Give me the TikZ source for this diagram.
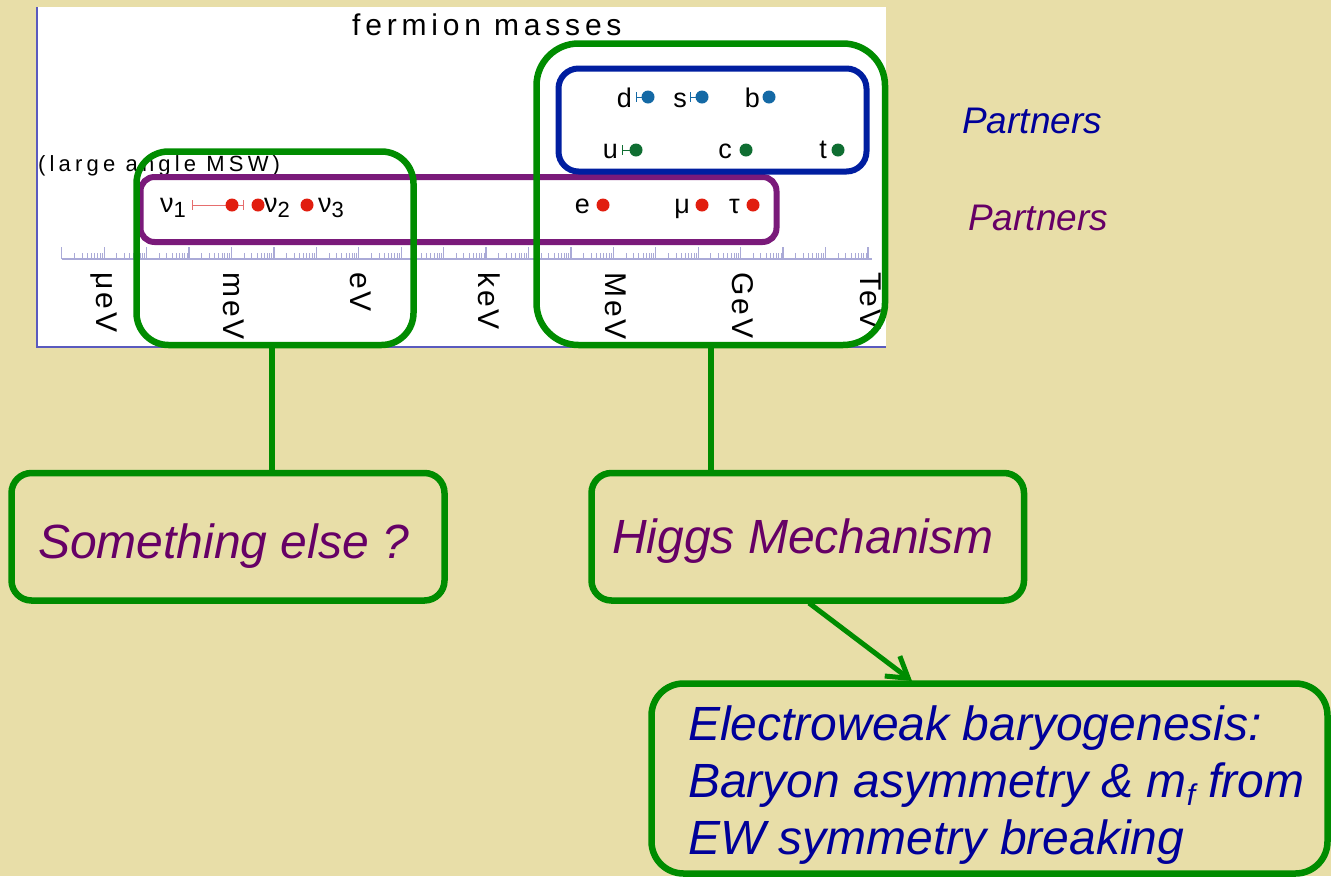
\documentclass[tikz,border=0pt]{standalone}
\usepackage{fontspec}
\setmainfont{Liberation Sans}
\newfontfamily\titlefont[LetterSpace=16]{Liberation Sans}
\newfontfamily\mswfont[LetterSpace=19]{Liberation Sans}
\newfontfamily\axisfont[LetterSpace=10]{Liberation Sans}
\usetikzlibrary{arrows.meta,calc}
\definecolor{bg}{RGB}{232,222,168}
\definecolor{gbox}{RGB}{0,140,0}
\definecolor{bbox}{RGB}{0,30,160}
\definecolor{pbox}{RGB}{122,26,122}
\definecolor{txtp}{RGB}{102,0,102}
\definecolor{txtb}{RGB}{0,0,153}
\definecolor{dotr}{RGB}{225,30,15}
\definecolor{dotb}{RGB}{20,105,165}
\definecolor{dotg}{RGB}{15,110,50}
\definecolor{tickc}{RGB}{170,170,215}
\definecolor{framec}{RGB}{90,90,190}
\definecolor{errr}{RGB}{230,110,110}
\tikzset{
  gframe/.style={draw=gbox, line width=6.5, inner sep=0, anchor=center},
  lab/.style={inner sep=0, font=\fontsize{27}{30}\selectfont, text=black},
  axlab/.style={inner sep=0, rotate=-90, anchor=base west, font=\axisfont\fontsize{30}{32}\selectfont},
  rdot/.style={circle, fill=dotr, inner sep=0, minimum size=13},
  bdot/.style={circle, fill=dotb, inner sep=0, minimum size=13},
  gdot/.style={circle, fill=dotg, inner sep=0, minimum size=13},
  bigtxt/.style={inner sep=0, anchor=base west, font=\itshape\fontsize{48}{57}\selectfont},
  conn/.style={draw=gbox, line width=6},
}
\begin{document}
\begin{tikzpicture}[x=1pt,y=-1pt]
\fill[bg] (0,0) rectangle (1331,876);
\useasboundingbox (0,0) rectangle (1331,876);
% chart area
\fill[white] (37,7) rectangle (886,347);
\draw[framec, line width=1.2] (37,7) -- (37,347) -- (886,347);
\node[inner sep=0, anchor=base west, font=\titlefont\fontsize{30}{32}\selectfont] (title) at (352,35) {fermion masses};
\node[inner sep=0, anchor=base west, font=\mswfont\fontsize{22}{24}\selectfont] (msw) at (38,171) {(large angle MSW)};
% log axis
\begin{scope}
\clip (61,240) rectangle (872,262);
\draw[tickc, line width=1.2] (62,259) -- (872,259);
\foreach \d in {-2,...,19}{
  \pgfmathsetmacro\xd{104.2+42.43*\d}
  \draw[tickc, line width=1.2] (\xd,259) -- (\xd,247);
  \foreach \n in {2,...,9}{
    \pgfmathsetmacro\xm{\xd+42.43*log10(\n)}
    \draw[tickc, line width=1] (\xm,259) -- (\xm,253);
  }
}
\end{scope}
\foreach \lab [count=\i from 0] in {μeV,meV,eV,keV,MeV,GeV,TeV}{
  \node[axlab] (ax\i) at ({104.2+127.3*\i-8},272) {\lab};
}
% quarks
\draw[dotb, line width=1] (636,92) -- (636,102) (636,97) -- (648,97);
\draw[dotb, line width=1] (690,92) -- (690,102) (690,97) -- (702,97);
\node[lab, anchor=base east] (qd) at (632,107) {d};
\node[bdot] (dd) at (648,97) {};
\node[lab, anchor=base east] (qs) at (687,107) {s};
\node[bdot] (ds) at (702,97) {};
\node[lab, anchor=base east] (qb) at (760,107) {b};
\node[bdot] (db) at (769,97) {};
\draw[dotg, line width=1] (622,145) -- (622,155) (622,150) -- (636,150);
\node[lab, anchor=base east] (qu) at (618,158) {u};
\node[gdot] (du) at (636,150) {};
\node[lab, anchor=base east] (qc) at (732,158) {c};
\node[gdot] (dc) at (746,150) {};
\node[lab, anchor=base east] (qt) at (827,158) {t};
\node[gdot] (dt) at (838,150) {};
% leptons
\node[lab, anchor=base east] (le) at (590,213) {e};
\node[rdot] (de) at (603,205) {};
\node[lab, anchor=base east] (lm) at (690,213) {μ};
\node[rdot] (dm) at (702,205) {};
\node[lab, anchor=base east] (lt) at (740,213) {τ};
\node[rdot] (dtau) at (753,205) {};
% neutrinos
\draw[errr, line width=1] (192,200) -- (192,210) (192,205) -- (243,205) (243,200) -- (243,210);
\node[lab, anchor=base west] (n1) at (160,212) {ν\raisebox{-5pt}{\fontsize{22}{24}\selectfont 1}};
\node[rdot] (dn1) at (232,205) {};
\node[rdot] (dn2) at (258,205) {};
\node[lab, anchor=base west] (n2) at (264,212) {ν\raisebox{-5pt}{\fontsize{22}{24}\selectfont 2}};
\node[rdot] (dn3) at (307,205) {};
\node[lab, anchor=base west] (n3) at (318,212) {ν\raisebox{-5pt}{\fontsize{22}{24}\selectfont 3}};
% overlay boxes
\node[draw=pbox, line width=6, inner sep=0, rounded corners=14, minimum width=636, minimum height=65] (pur) at (458.5,209.5) {};
\node[draw=bbox, line width=6, inner sep=0, rounded corners=20, minimum width=308, minimum height=103] (blu) at (712.5,120) {};
\node[gframe, rounded corners=32, minimum width=277, minimum height=193.5] (gl) at (275,248.25) {};
\node[gframe, rounded corners=42, minimum width=348.5, minimum height=301.5] (gr) at (710.75,194.25) {};
% partners labels
\node[inner sep=0, anchor=base west, text=txtb, font=\itshape\fontsize{37}{40}\selectfont] (p1) at (962,133) {Partners};
\node[inner sep=0, anchor=base west, text=txtp, font=\itshape\fontsize{37}{40}\selectfont] (p2) at (968,230) {Partners};
% bottom boxes
\node[gframe, rounded corners=20, minimum width=433, minimum height=127.5] (se) at (228,536.75) {};
\node[bigtxt, text=txtp] (set) at (38,558) {Something else ?};
\node[gframe, rounded corners=20, minimum width=432.5, minimum height=127.5] (hm) at (807.75,536.75) {};
\node[bigtxt, text=txtp] (hmt) at (612,553) {Higgs Mechanism};
\node[gframe, rounded corners=32, minimum width=676, minimum height=190] (ew) at (989.5,778.5) {};
\node[bigtxt, text=txtb, align=left, anchor=north west] (ewt) at (688,706) {Electroweak baryogenesis:\\Baryon asymmetry \& m\raisebox{-8pt}{\fontsize{30}{32}\selectfont f} from\\EW symmetry breaking};
% connectors
\draw[conn] (gl.south -| 271.5,0) -- (se.north -| 271.5,0);
\draw[conn] (gr.south -| 711,0) -- (hm.north -| 711,0);
\coordinate (hmout) at (809,603);
\coordinate (ewin) at (912,681);
\draw[conn, line width=5, -{Straight Barb[length=20pt,width=25pt,line width=5pt]}] (hmout) -- (ewin);
\end{tikzpicture}
\end{document}
